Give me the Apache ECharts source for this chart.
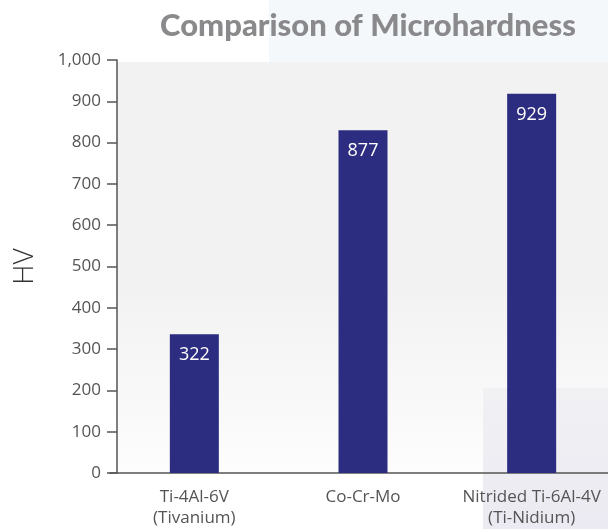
<!DOCTYPE html>
<html>
<head>
<meta charset="utf-8">
<script src="https://cdn.jsdelivr.net/npm/echarts@6/dist/echarts.min.js"></script>
<style>
  html, body { margin: 0; padding: 0; background: #fff; }
  #main { width: 608px; height: 529px; }
</style>
</head>
<body>
<div id="main"></div>
<script>
// data
const categories = ['Ti-4Al-6V\n(Tivanium)', 'Co-Cr-Mo', 'Nitrided Ti-6Al-4V\n(Ti-Nidium)']
// values printed on the bars
const hardnessLabels = [322, 877, 929]
// bar heights as drawn against the axis
const barHeights = [336, 830, 918]
const yTicks = { min: 0, max: 1000, interval: 100 }

const chart = echarts.init(document.getElementById('main'))

const option = {
  backgroundColor: '#ffffff',
  textStyle: { fontFamily: 'Open Sans' },
  title: {
    text: 'Comparison of Microhardness',
    left: 363,
    top: 5,
    textAlign: 'center',
    textStyle: {
      fontFamily: 'Lato',
      fontWeight: 900,
      fontSize: 31,
      color: '#8a8a8c'
    }
  },
  graphic: [
    // pale panel behind the title
    {
      type: 'rect', z: -20, silent: true,
      shape: { x: 269, y: 0, width: 339, height: 62 },
      style: { fill: '#f5f8fa' }
    },
    // plot background
    {
      type: 'rect', z: -20, silent: true,
      shape: { x: 117, y: 62, width: 491, height: 411 },
      style: {
        fill: new echarts.graphic.LinearGradient(0, 0, 0, 1, [
          { offset: 0, color: '#f2f2f2' },
          { offset: 0.55, color: '#f2f2f2' },
          { offset: 1, color: '#fdfdfd' }
        ])
      }
    },
    // lavender panel at lower right
    {
      type: 'rect', z: -19, silent: true,
      shape: { x: 483, y: 388, width: 125, height: 141 },
      style: {
        fill: new echarts.graphic.LinearGradient(0, 0, 0, 1, [
          { offset: 0, color: '#f1f1f4' },
          { offset: 1, color: '#ebeaf2' }
        ])
      }
    }
  ],
  grid: {
    left: 110,
    right: -8,
    top: 60,
    bottom: 56,
    containLabel: false,
    outerBoundsMode: 'none'
  },
  xAxis: {
    type: 'category',
    data: categories,
    axisLine: { lineStyle: { color: '#555', width: 1.5 } },
    axisTick: { show: false },
    axisLabel: {
      color: '#555',
      fontSize: 17,
      lineHeight: 21,
      margin: 14,
      interval: 0
    }
  },
  yAxis: {
    type: 'value',
    min: yTicks.min,
    max: yTicks.max,
    interval: yTicks.interval,
    offset: -7,
    name: 'HV',
    nameLocation: 'middle',
    nameGap: 78,
    nameMoveOverlap: false,
    nameTextStyle: { color: '#333', fontSize: 28, fontWeight: 300 },
    axisLine: { show: true, lineStyle: { color: '#555', width: 1.5 } },
    axisTick: { show: true, length: 10, lineStyle: { color: '#555', width: 1.5 } },
    axisLabel: {
      color: '#555',
      fontSize: 17,
      margin: 16,
      formatter: v => v.toLocaleString('en-US')
    },
    splitLine: { show: false }
  },
  series: [
    {
      type: 'bar',
      data: barHeights,
      barWidth: 49,
      itemStyle: { color: '#2c2c80' },
      label: {
        show: true,
        position: 'insideTop',
        distance: 12,
        color: '#fff',
        fontSize: 18,
        formatter: p => hardnessLabels[p.dataIndex]
      }
    }
  ]
}

chart.setOption(option)
</script>
</body>
</html>
